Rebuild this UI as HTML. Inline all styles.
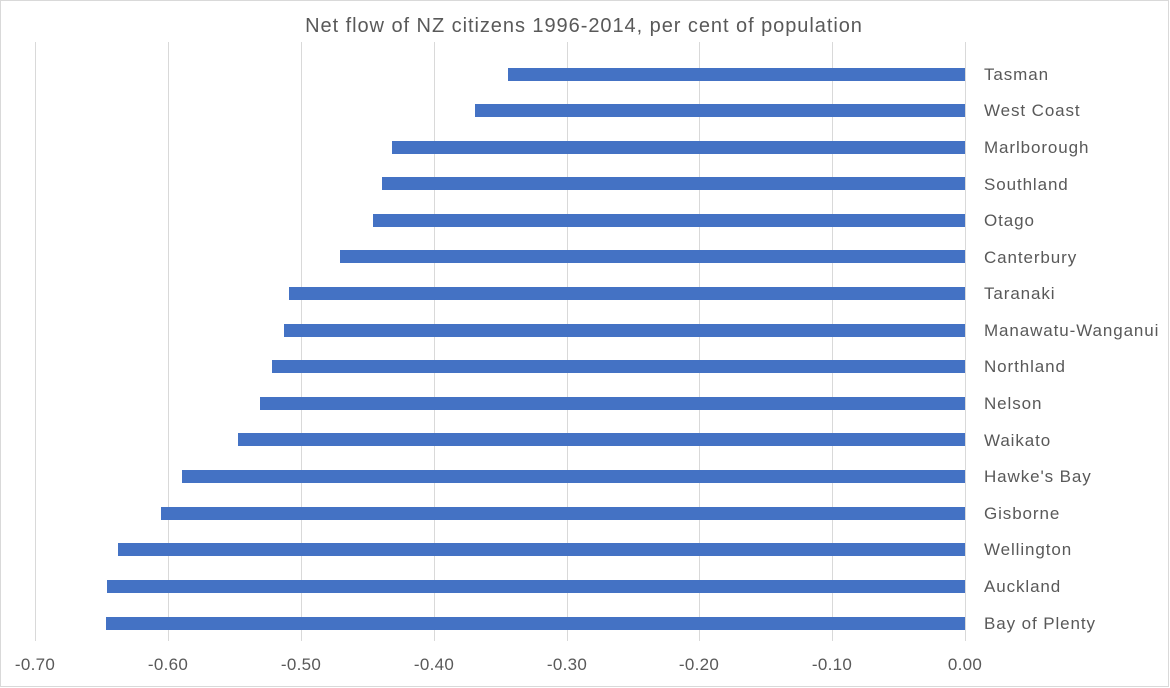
<!DOCTYPE html>
<html><head><meta charset="utf-8"><style>
body{margin:0;background:#fff;}
svg{display:block;font-family:"Liberation Sans",sans-serif;}
</style></head><body>
<svg width="1170" height="688" viewBox="0 0 1170 688" xmlns="http://www.w3.org/2000/svg">
<rect x="0.5" y="0.5" width="1168" height="686" fill="#fff" stroke="#d9d9d9"/>
<text x="584" y="32" text-anchor="middle" font-size="20" letter-spacing="0.95" fill="#595959">Net flow of NZ citizens 1996-2014, per cent of population</text>
<g stroke="#d9d9d9" stroke-width="1">
<line x1="35.5" y1="42" x2="35.5" y2="641"/>
<line x1="168.5" y1="42" x2="168.5" y2="641"/>
<line x1="301.5" y1="42" x2="301.5" y2="641"/>
<line x1="434.5" y1="42" x2="434.5" y2="641"/>
<line x1="567.5" y1="42" x2="567.5" y2="641"/>
<line x1="699.5" y1="42" x2="699.5" y2="641"/>
<line x1="832.5" y1="42" x2="832.5" y2="641"/>
<line x1="965.5" y1="42" x2="965.5" y2="641"/>
</g>
<g fill="#4472c4">
<rect x="508" y="68" width="457" height="13"/>
<rect x="475" y="104" width="490" height="13"/>
<rect x="392" y="141" width="573" height="13"/>
<rect x="382" y="177" width="583" height="13"/>
<rect x="373" y="214" width="592" height="13"/>
<rect x="340" y="250" width="625" height="13"/>
<rect x="289" y="287" width="676" height="13"/>
<rect x="284" y="324" width="681" height="13"/>
<rect x="272" y="360" width="693" height="13"/>
<rect x="260" y="397" width="705" height="13"/>
<rect x="238" y="433" width="727" height="13"/>
<rect x="182" y="470" width="783" height="13"/>
<rect x="161" y="507" width="804" height="13"/>
<rect x="118" y="543" width="847" height="13"/>
<rect x="107" y="580" width="858" height="13"/>
<rect x="106" y="617" width="859" height="13"/>
</g>
<g font-size="17" fill="#595959" letter-spacing="0.9">
<text x="984" y="80">Tasman</text>
<text x="984" y="116">West Coast</text>
<text x="984" y="153">Marlborough</text>
<text x="984" y="190">Southland</text>
<text x="984" y="226">Otago</text>
<text x="984" y="263">Canterbury</text>
<text x="984" y="299">Taranaki</text>
<text x="984" y="336">Manawatu-Wanganui</text>
<text x="984" y="372">Northland</text>
<text x="984" y="409">Nelson</text>
<text x="984" y="446">Waikato</text>
<text x="984" y="482">Hawke's Bay</text>
<text x="984" y="519">Gisborne</text>
<text x="984" y="555">Wellington</text>
<text x="984" y="592">Auckland</text>
<text x="984" y="629">Bay of Plenty</text>
</g>
<g font-size="17" fill="#595959" text-anchor="middle" letter-spacing="0.3">
<text x="35" y="670">-0.70</text>
<text x="168" y="670">-0.60</text>
<text x="301" y="670">-0.50</text>
<text x="434" y="670">-0.40</text>
<text x="567" y="670">-0.30</text>
<text x="699" y="670">-0.20</text>
<text x="832" y="670">-0.10</text>
<text x="965" y="670">0.00</text>
</g>
</svg>
</body></html>
